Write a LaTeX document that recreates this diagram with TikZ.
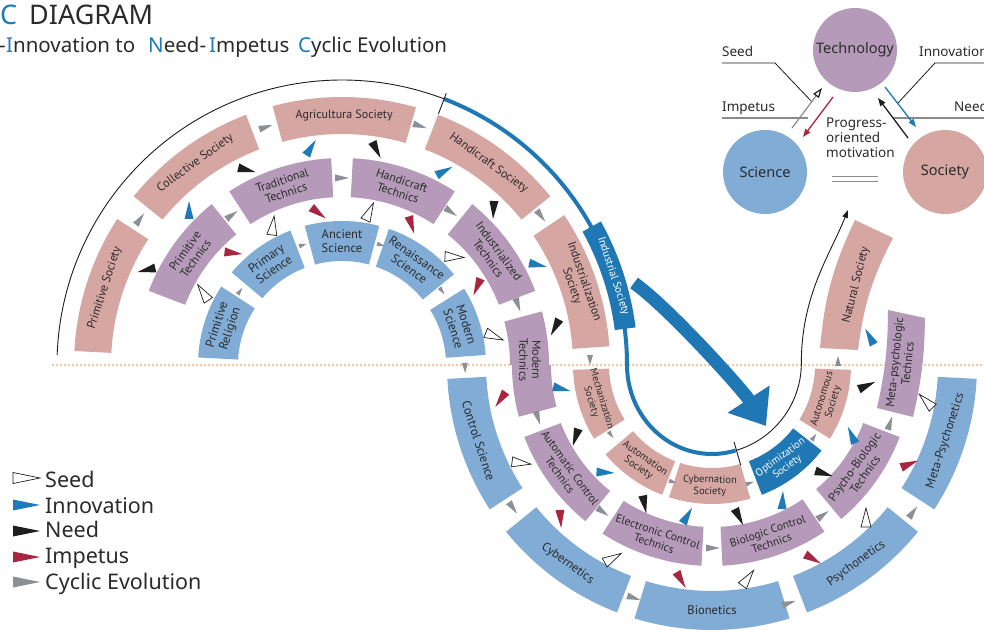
\documentclass[tikz,border=0pt]{standalone}
\usepackage{fontspec}
\setmainfont{Noto Sans}
\newfontfamily\boxfont{PT Sans}
\usetikzlibrary{arrows.meta,calc}
\definecolor{socc}{HTML}{D6A6A2}
\definecolor{tecc}{HTML}{B59BB9}
\definecolor{scic}{HTML}{80ACD6}
\definecolor{dblue}{HTML}{1F78B4}
\definecolor{ink}{HTML}{2B2B2B}
\definecolor{cycc}{HTML}{8C8F96}
\definecolor{impc}{HTML}{A8263F}
\definecolor{needc}{HTML}{1E1E1E}
\definecolor{innc}{HTML}{1F7AB8}
\definecolor{dotc}{HTML}{F08A3C}
\definecolor{tgray}{HTML}{8A8A8A}

\newcommand\seg[9]{%
  \fill[#6] ([shift={(#4:#2)}]#1) -- ([shift={(#4:#3)}]#1)
    arc[start angle=#4,end angle=#5,radius=#3]
    -- ([shift={(#5:#2)}]#1)
    arc[start angle=#5,end angle=#4,radius=#2] -- cycle;
  \node[lbl,rotate=#8] (#7) at ([shift={({(#4+#5)/2}:{(#2+#3)/2})}]#1) {#9};}
\newcommand\tri[4]{\path[#1,shift={(#2,{365-#3})},rotate=#4]
  (\trL,0) -- (-\trL,\trW) -- (-\trL,-\trW) -- cycle;}

\tikzset{
  lbl/.style={font=\boxfont\fontsize{12}{13}\selectfont, text=ink, align=center, inner sep=0pt},
  big/.style={font=\boxfont\fontsize{12.5}{13.5}\selectfont},
  sm/.style={font=\boxfont\fontsize{10.5}{11.5}\selectfont},
  mid/.style={font=\boxfont\fontsize{11.5}{12.5}\selectfont},
  socF/.style={fill=socc}, tecF/.style={fill=tecc}, sciF/.style={fill=scic},
  tseed/.style={fill=white,draw=needc,line width=0.7pt,/utils/exec={\def\trL{9.5}\def\trW{5}}},
  tinn/.style={fill=innc,/utils/exec={\def\trL{9}\def\trW{4.5}}},
  tneed/.style={fill=needc,/utils/exec={\def\trL{9}\def\trW{4.5}}},
  timp/.style={fill=impc,/utils/exec={\def\trL{9}\def\trW{4.5}}},
  tcyc/.style={fill=cycc,/utils/exec={\def\trL{7}\def\trW{3.5}}},
  tcycm/.style={fill=cycc,/utils/exec={\def\trL{5}\def\trW{3}}},
  tcycs/.style={fill=cycc,/utils/exec={\def\trL{4}\def\trW{2.3}}},
  leg/.style={/utils/exec={\def\trL{13.5}\def\trW{5.5}}},
  legtxt/.style={anchor=base west,inner sep=0pt,text=ink,font=\fontsize{21.5}{24}\selectfont},
  mini/.style={anchor=base west,inner sep=0pt,text=ink,font=\fontsize{13.5}{15}\selectfont},
  ball/.style={circle,minimum size=84pt,inner sep=0pt,text=ink,font=\fontsize{14.5}{16}\selectfont},
  ttl/.style={anchor=base west,inner sep=0pt,text=ink,font=\fontsize{20.5}{24}\selectfont},
}

\begin{document}
\begin{tikzpicture}[x=1pt,y=1pt]
\fill[white] (0,-264) rectangle (984,365);
\useasboundingbox (0,-264) rectangle (984,365);
\coordinate (U) at (342,0);
\coordinate (L) at (712,0);

% dotted horizon
\draw[dotc,line width=1.7pt,line cap=round,dash pattern=on 0pt off 4pt] (53,0) -- (984,0);

% title
\node[anchor=base west,inner sep=0pt,font=\fontsize{27}{30}\selectfont,text=innc] (tC) at (0,340) {C};
\node[anchor=base west,inner sep=0pt,font=\fontsize{27}{30}\selectfont,text=ink] (tD) at (29,340) {DIAGRAM};
\node[ttl] (s0) at (-1,312) {-};
\node[ttl] (s1) at (6,312) {\textcolor{innc}{I}nnovation to};
\node[ttl] (s2) at (148,312) {\textcolor{innc}{N}eed-};
\node[ttl] (s3) at (209,312) {\textcolor{innc}{I}mpetus};
\node[ttl] (s4) at (298,312) {\textcolor{innc}{C}yclic Evolution};

% ---------- upper rings ----------
\seg{U}{231}{268}{147}{177}{socF}{ps}{72}{Primitive Society}
\seg{U}{231}{268}{111}{141}{socF}{cs}{36}{Collective Society}
\seg{U}{231}{268}{74}{105}{socF}{as}{0}{Agricultura Society}
\seg{U}{231}{268}{39}{69}{socF}{hs}{-36}{Handicraft Society}
\seg{U}{231}{268}{4}{34}{socF}{is}{-71}{Industrialization\\Society}

\seg{U}{168}{207}{129}{159}{tecF}{pt}{54}{Primitive\\Technics}
\seg{U}{168}{207}{93}{123}{tecF}{tt}{18}{Traditional\\Technics}
\seg{U}{168}{207}{57}{87}{tecF}{ht}{-18}{Handicraft\\Technics}
\seg{U}{168}{207}{21}{51}{tecF}{it}{-54}{Industrialized\\Technics}

\seg{U}{104}{144}{147}{177}{sciF}{pr}{72,big}{Primitive\\Religion}
\seg{U}{104}{144}{111}{140}{sciF}{psc}{35.5,big}{Primary\\Science}
\seg{U}{104}{144}{75}{105}{sciF}{asc}{0,big}{Ancient\\Science}
\seg{U}{104}{144}{39}{71}{sciF}{rsc}{-35,big}{Renaissance\\Science}
\seg{U}{104}{144}{4}{32}{sciF}{msc}{-72,big}{Modern\\Science}

% Modern Technics (straddles)
\fill[tecc] ([shift={(15:168)}]U) -- ([shift={(15:207)}]U) arc[start angle=15,end angle=0,radius=207]
  -- ([shift={(180:161)}]L) arc[start angle=180,end angle=195,radius=161]
  -- ([shift={(195:200)}]L) arc[start angle=195,end angle=180,radius=200]
  -- ([shift={(0:168)}]U) arc[start angle=0,end angle=15,radius=168] -- cycle;
\node[lbl,rotate=-90] (mt) at (530,5) {Modern\\Technics};

% ---------- lower rings ----------
\seg{L}{103}{139}{182}{212}{socF}{mes}{-73,font=\boxfont\fontsize{10}{11}\selectfont}{Mechanization\\Society}
\seg{L}{103}{139}{220}{249}{socF}{aus}{-35.5,sm}{Automation\\Society}
\seg{L}{103}{139}{252}{286}{socF}{cys}{-1,sm}{Cybernation\\Society}
\seg{L}{103}{139}{291}{322}{fill=dblue}{ops}{36.5,sm,text=white}{Optimization\\Society}
\seg{L}{103}{139}{328}{358}{socF}{ans}{73,sm}{Autonomous\\Society}

\fill[socc] (820,17) to[bend left=10] (855,145) -- (893,127) to[bend right=10] (858,15) -- cycle;
\node[lbl,rotate=76] (ns) at (856,80) {Natural Society};

\seg{L}{162}{201}{201}{231}{tecF}{act}{-54,mid}{Automatic Control\\Technics}
\seg{L}{162}{201}{237}{267}{tecF}{ect}{-18,mid}{Electronic Control\\Technics}
\seg{L}{162}{201}{273}{304}{tecF}{bct}{18.5,mid}{Biologic Control\\Technics}
\seg{L}{162}{201}{310}{339}{tecF}{pbt}{54.5}{Psycho-Biologic\\Technics}

\fill[tecc] (877,-43) to[bend right=6] (888,55) -- (925,47) to[bend left=6] (913,-52) -- cycle;
\node[lbl,rotate=84] (mpt) at (901,2) {Meta-psychologic\\Technics};

\seg{L}{226}{265}{183}{213}{sciF}{csc}{-72,big}{Control Science}
\seg{L}{226}{265}{219}{249}{sciF}{cyb}{-36,big}{Cybernetics}
\seg{L}{226}{265}{253}{287}{sciF}{bio}{0,big}{Bionetics}
\seg{L}{226}{265}{291}{321}{sciF}{psy}{36,big}{Psychonetics}
\seg{L}{226}{265}{327}{357}{sciF}{mps}{72,big}{Meta-Psychonetics}

% ---------- spiral lines ----------
\draw[needc,line width=0.9pt] ([shift={(178:285)}]U) arc[start angle=178,end angle=69,radius=285];
\draw[dblue,line width=4pt] ([shift={(69:285)}]U) arc[start angle=69,end angle=0,radius=285]
  arc[start angle=180,end angle=286,x radius=85,y radius=89];
\draw[needc,line width=0.9pt] ([shift={(69:269)}]U) -- ([shift={(69:291)}]U);
\draw[needc,line width=0.9pt] ([shift={(286:80)}]L) -- ([shift={(286:104)}]L);
\coordinate (socend) at (848,155);
\draw[needc,line width=0.9pt,-{Triangle[length=8pt,width=5.5pt]}] ([shift={(286:85 and 89)}]L) arc[start angle=286,end angle=360,radius=91]
  .. controls (801.3,70) and (830,110) .. (socend);

\seg{U}{275}{296}{7.3}{29}{fill=dblue}{ind}{-72,text=white,font=\boxfont\fontsize{11}{12}\selectfont}{Industrial Society}

\coordinate (ba) at (634,82);
\coordinate (bb) at (766,-61);
\draw[dblue,line width=13pt,-{Triangle[length=32pt,width=48pt]}] (ba) .. controls (668,58) and (742,-24) .. (bb);

% ---------- triangles: cyclic ----------
\tri{tcyc}{140}{219}{54}
\tri{tcyc}{266}{127}{18}
\tri{tcyc}{420}{126}{-18}
\tri{tcyc}{541}{216}{-53}
\tri{tcycm}{590}{360}{-90}
\tri{tcyc}{232}{215}{36}
\tri{tcyc}{342}{178}{0}
\tri{tcyc}{451}{212}{-35}
\tri{tcyc}{518}{305}{-71}
\tri{tcyc}{538}{418}{-73}
\tri{tcycs}{240}{291}{54}
\tri{tcycs}{303}{245}{18}
\tri{tcycs}{381}{245}{-18}
\tri{tcycs}{442}{291}{-53}
\tri{tcycm}{465}{368}{-88}
\tri{tcycs}{611}{435}{-55}
\tri{tcycs}{673}{482}{-18}
\tri{tcycs}{750}{483}{18}
\tri{tcycs}{814}{437}{55}
\tri{tcycm}{838}{361}{90}
\tri{tcyc}{603}{512}{-36}
\tri{tcyc}{713}{548}{0}
\tri{tcyc}{823}{515}{36}
\tri{tcyc}{890}{423}{72}
\tri{tcyc}{513}{508}{-54}
\tri{tcyc}{634}{598}{-18}
\tri{tcyc}{789}{603}{18}
\tri{tcyc}{913}{512}{54}

% ---------- triangles: coloured ----------
\tri{tinn}{311}{147.5}{58}
\tri{tneed}{376.5}{150}{-63}
\tri{tneed}{247}{170}{-14}
\tri{tinn}{189}{210}{90}
\tri{timp}{318.5}{213}{-37}
\tri{tseed}{369.5}{211.5}{65}
\tri{timp}{411.5}{225}{-73}
\tri{tseed}{273}{225.5}{83}
\tri{timp}{233.5}{253}{-7}
\tri{tneed}{146.5}{270}{193}
\tri{tseed}{203}{292.5}{124}
\tri{tinn}{444.5}{171}{28}
\tri{tneed}{493.5}{210}{-93}
\tri{tseed}{454.5}{257}{-3}
\tri{tinn}{538}{265}{-12}
\tri{timp}{477}{287}{247}
\tri{tneed}{555}{327.5}{242}
\tri{tseed}{494.5}{336.5}{-22}
\tri{tinn}{562}{389}{-14}
\tri{timp}{500.5}{399.5}{235}
\tri{tneed}{575.5}{437.5}{252}
\tri{tseed}{521.5}{463}{-7}
\tri{tinn}{605.5}{472.5}{-3}
\tri{tneed}{644.5}{504.5}{-79}
\tri{timp}{560.5}{519}{-86}
\tri{tinn}{687.5}{515.5}{59}
\tri{tneed}{739}{517}{-63}
\tri{tseed}{613}{558}{29}
\tri{timp}{681}{580}{-60}
\tri{tseed}{748}{578}{54}
\tri{tinn}{782.5}{500}{87}
\tri{tneed}{824}{473.5}{-17}
\tri{tinn}{851.5}{435}{114}
\tri{timp}{909.5}{464}{22}
\tri{tneed}{867}{385.5}{24}
\tri{tseed}{926}{401}{135}
\tri{tinn}{869.5}{336.5}{118}
\tri{tseed}{866}{517.5}{90}
\tri{timp}{813}{559}{-30}

% ---------- legend ----------
\tri{tseed,leg}{26.5}{478}{0}
\tri{tinn,leg}{26.5}{505}{0}
\tri{tneed,leg}{26.5}{531}{0}
\tri{timp,leg}{26.5}{557}{0}
\tri{tcyc,leg}{26.5}{582}{0}
\node[legtxt] (lg1) at (45,-122) {Seed};
\node[legtxt] (lg2) at (45,-148) {Innovation};
\node[legtxt] (lg3) at (45,-172) {Need};
\node[legtxt] (lg4) at (45,-198) {Impetus};
\node[legtxt] (lg5) at (45,-224) {Cyclic Evolution};

% ---------- mini diagram ----------
\node[ball,fill=tecc] (tech) at (855,315) {Technology};
\node[ball,fill=scic] (scin) at (765,193) {Science};
\node[ball,fill=socc] (socn) at (945,193) {Society};
\node[mini] (m1) at (826,237.3) {Progress-};
\node[mini] (m2) at (826,222.3) {oriented};
\node[mini] (m3) at (826,207.3) {motivation};
\draw[tgray,line width=1pt] (832,188) -- (878,188) (832,183) -- (878,183);
\node[mini] (lseed) at (722,308) {Seed};
\node[mini] (limp) at (722,253) {Impetus};
\node[mini] (linn) at (919,308) {Innovation};
\node[mini] (lneed) at (954,253) {Need};
\coordinate (k1) at (722,302); \coordinate (k2) at (775,302); \coordinate (k3) at (812,263);
\coordinate (k4) at (984,302); \coordinate (k5) at (935,302); \coordinate (k6) at (898,262);
\draw[needc,line width=0.8pt] (k1) -- (k2) -- (k3);
\draw[needc,line width=0.8pt] (k4) -- (k5) -- (k6);
\coordinate (h1) at (722,247); \coordinate (h2) at (808,247);
\coordinate (h3) at (893,247); \coordinate (h4) at (984,247);
\draw[tgray,line width=1.2pt] (h1) -- (h2) (h3) -- (h4);
\coordinate (sa1) at (792,237); \coordinate (sa2) at (822,277);
\coordinate (ra1) at (833,268); \coordinate (ra2) at (803,228);
\coordinate (bl1) at (885,278); \coordinate (bl2) at (916,238);
\coordinate (ka1) at (908,227); \coordinate (ka2) at (878,267);
\draw[tgray,line width=1.2pt,-{Triangle[open,length=10pt,width=7pt,color=needc]}] (sa1) -- (sa2);
\draw[impc,line width=1.3pt,-{Triangle[length=8pt,width=6pt]}] (ra1) -- (ra2);
\draw[innc,line width=1.3pt,-{Triangle[length=8pt,width=6pt]}] (bl1) -- (bl2);
\draw[needc,line width=1.3pt,-{Triangle[length=8pt,width=6pt]}] (ka1) -- (ka2);
\end{tikzpicture}
\end{document}
